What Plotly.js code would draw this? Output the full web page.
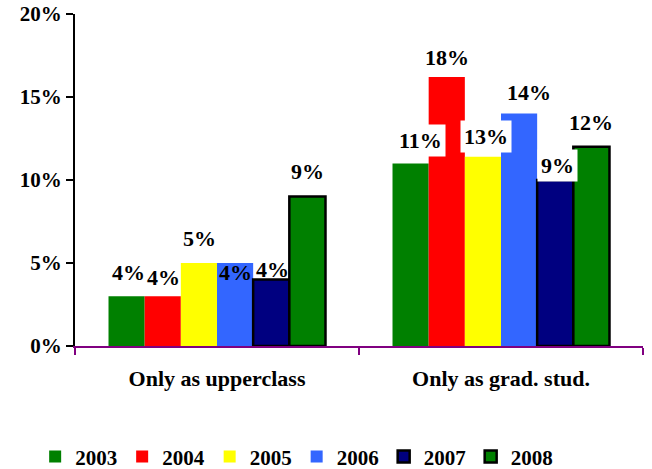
<!DOCTYPE html>
<html>
<head>
<meta charset="utf-8">
<script src="https://cdn.plot.ly/plotly-3.0.1.min.js"></script>
</head>
<body style="margin:0">
<div id="chart" style="width:652px;height:469px"></div>
<script>
// Data
var categories = ["Only as upperclass", "Only as grad. stud."];
var years = ["2003", "2004", "2005", "2006", "2007", "2008"];
var v2003 = [3.0, 11.0];
var v2004 = [3.0, 16.2];
var v2005 = [5.0, 11.4];
var v2006 = [5.0, 14.0];
var v2007 = [4.0, 10.0];
var v2008 = [9.0, 12.0];
// printed labels (as shown on the chart)
var lbl2003 = ["4%", "11%"];
var lbl2004 = ["4%", "18%"];
var lbl2005 = ["5%", "13%"];
var lbl2006 = ["4%", "14%"];
var lbl2007 = ["4%", "9%"];
var lbl2008 = ["9%", "12%"];
// heights (in %) at which the printed labels sit
var lblAt2003 = [4.4, 12.4];
var lblAt2004 = [4.15, 17.4];
var lblAt2005 = [6.5, 12.6];
var lblAt2006 = [4.4, 15.25];
var lblAt2007 = [4.6, 10.9];
var lblAt2008 = [10.5, 13.45];

var series = [v2003, v2004, v2005, v2006, v2007, v2008];
var labels = [lbl2003, lbl2004, lbl2005, lbl2006, lbl2007, lbl2008];
var labelAt = [lblAt2003, lblAt2004, lblAt2005, lblAt2006, lblAt2007, lblAt2008];
var colors = ["#008000", "#FF0000", "#FFFF00", "#3366FF", "#000080", "#008000"];
var outlined = [false, false, false, false, true, true];

function F(sz) { return { family: "Liberation Serif", size: sz, weight: "bold", color: "#000000" }; }

var traces = series.map(function (vals, i) {
  return {
    type: "bar",
    name: years[i],
    x: categories,
    y: vals,
    marker: {
      color: colors[i],
      line: { color: "#000000", width: outlined[i] ? 2.5 : 0 }
    },
    hoverinfo: "skip"
  };
});

var barPx = 36;
var labelNudge = [[1, 9], [0, 0], [0, 3], [0, 10], [1, 2], [0, 0]];
var annotations = [];
labels.forEach(function (lbls, i) {
  lbls.forEach(function (t, j) {
    annotations.push({
      x: categories[j],
      y: labelAt[i][j],
      xref: "x", yref: "y",
      text: t,
      showarrow: false,
      xshift: (i - 2.5) * barPx + labelNudge[i][j],
      yanchor: "middle",
      xanchor: "center",
      bgcolor: j === 1 ? "#FFFFFF" : "rgba(0,0,0,0)",
      borderpad: j === 1 ? 3 : 0,
      font: F(22)
    });
  });
});

var layout = {
  width: 652,
  height: 469,
  margin: { l: 75, r: 9, t: 14, b: 123 },
  paper_bgcolor: "#FFFFFF",
  plot_bgcolor: "#FFFFFF",
  barmode: "group",
  bargap: 0.236,
  bargroupgap: 0,
  showlegend: true,
  legend: {
    orientation: "h",
    xref: "container", yref: "container",
    x: 0.455, xanchor: "center",
    y: 0.026, yanchor: "middle",
    font: F(21),
    itemwidth: 30,
    tracegroupgap: 0,
    traceorder: "normal"
  },
  xaxis: {
    type: "category",
    showline: true,
    linecolor: "#800080",
    linewidth: 2,
    ticks: "outside",
    tickson: "boundaries",
    ticklen: 7,
    tickwidth: 2,
    tickcolor: "#800080",
    ticklabelstandoff: 12,
    showgrid: false,
    zeroline: false,
    tickfont: F(22),
    automargin: false
  },
  yaxis: {
    range: [0, 20],
    dtick: 5,
    tick0: 0,
    ticksuffix: "%",
    showline: true,
    linecolor: "#000000",
    linewidth: 2,
    ticks: "outside",
    ticklen: 7,
    tickwidth: 2,
    tickcolor: "#000000",
    showgrid: false,
    zeroline: false,
    tickfont: F(21),
    automargin: false
  },
  annotations: annotations
};

Plotly.newPlot("chart", traces, layout, { displayModeBar: false, staticPlot: true });
</script>
</body>
</html>
